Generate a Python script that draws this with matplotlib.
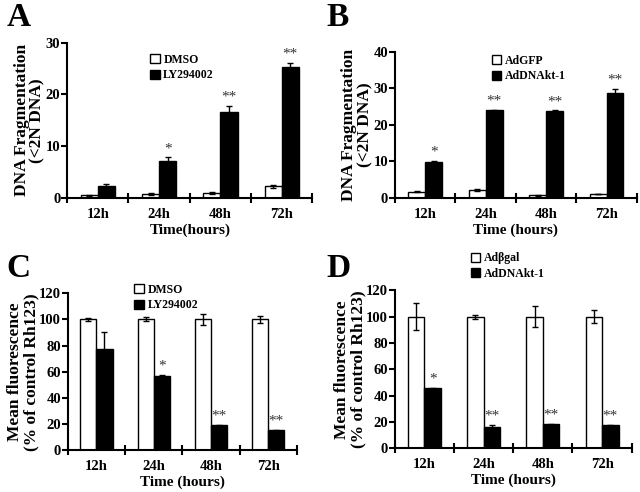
import numpy as np
import matplotlib
matplotlib.use('Agg')
import matplotlib.pyplot as plt

plt.rcParams['font.family'] = ['Liberation Serif', 'DejaVu Serif']
plt.rcParams['font.weight'] = 'bold'

times = ['12h', '24h', '48h', '72h']

# Panel A: DNA fragmentation, DMSO vs LY294002
a_ctrl = [0.5, 0.8, 1.0, 2.2]
a_ctrl_err = [0.1, 0.2, 0.2, 0.35]
a_trt = [2.3, 7.1, 16.6, 25.3]
a_trt_err = [0.3, 0.7, 1.1, 0.8]
a_stars = ['', '*', '**', '**']

# Panel B: DNA fragmentation, AdGFP vs AdDNAkt-1
b_ctrl = [1.7, 2.1, 0.7, 1.0]
b_ctrl_err = [0.1, 0.3, 0.1, 0.1]
b_trt = [9.8, 23.9, 23.7, 28.7]
b_trt_err = [0.3, 0.2, 0.2, 1.2]
b_stars = ['*', '**', '**', '**']

# Panel C: Rh123 fluorescence, DMSO vs LY294002
c_ctrl = [100, 100, 100, 100]
c_ctrl_err = [1.0, 1.5, 4.0, 2.5]
c_trt = [77, 56.5, 19, 15.3]
c_trt_err = [13, 0.7, 0.4, 0.3]
c_stars = ['', '*', '**', '**']

# Panel D: Rh123 fluorescence, Adbgal vs AdDNAkt-1
d_ctrl = [100, 100, 100, 100]
d_ctrl_err = [10.5, 1.5, 8.0, 5.0]
d_trt = [45.5, 15.8, 18.2, 17.4]
d_trt_err = [0.3, 1.6, 0.4, 0.3]
d_stars = ['*', '**', '**', '**']


def panel(ax, ctrl, ctrl_err, trt, trt_err, stars, labels, ylim, yticks,
          ylabel, xlabel, leg_loc):
    x = np.arange(len(times)) + 0.5
    w = 0.28
    ax.bar(x - w / 2, ctrl, w, yerr=ctrl_err, color='white', edgecolor='black',
           linewidth=1.0, label=labels[0],
           error_kw=dict(ecolor='black', elinewidth=1.0, capsize=2, capthick=1.0))
    ax.bar(x + w / 2, trt, w, yerr=trt_err, color='black', edgecolor='black',
           linewidth=1.0, label=labels[1],
           error_kw=dict(ecolor='black', elinewidth=1.0, capsize=2, capthick=1.0))
    span = ylim[1] - ylim[0]
    for xi, v, e, s in zip(x, trt, trt_err, stars):
        if s:
            ax.text(xi + w / 2, v + e + span * 0.015, s, ha='center', va='bottom',
                    fontsize=11, fontweight='normal', color='#333333')
    ax.set_xlim(0, 4)
    ax.set_ylim(*ylim)
    ax.set_yticks(yticks)
    ax.set_xticks(np.arange(5), minor=False)
    ax.set_xticklabels([])
    ax.set_xticks(x, minor=True)
    ax.set_xticklabels(times, minor=True, fontsize=10.5, fontweight='bold')
    ax.tick_params(axis='x', which='major', direction='inout', length=7, width=1.5)
    ax.tick_params(axis='x', which='minor', length=0, pad=7)
    ax.tick_params(axis='y', direction='out', length=4, width=1.5, labelsize=10.5, pad=1)
    for lab in ax.get_yticklabels():
        lab.set_fontweight('bold')
    for sp in ['top', 'right']:
        ax.spines[sp].set_visible(False)
    for sp in ['left', 'bottom']:
        ax.spines[sp].set_linewidth(1.5)
    ax.set_ylabel(ylabel, fontsize=12.5, fontweight='bold', labelpad=0,
                  linespacing=1.0)
    ax.set_xlabel(xlabel, fontsize=11, fontweight='bold', labelpad=2)
    ax.legend(loc='upper left', bbox_to_anchor=leg_loc, frameon=False,
              prop={'size': 8.5, 'weight': 'bold'}, handlelength=0.8,
              handleheight=0.8, handletextpad=0.3, labelspacing=0.3,
              borderaxespad=0)


fig = plt.figure(figsize=(6.4, 4.92), dpi=100)
axA = fig.add_axes([0.105, 0.598, 0.383, 0.315])
axB = fig.add_axes([0.617, 0.598, 0.378, 0.297])
axC = fig.add_axes([0.106, 0.085, 0.358, 0.319])
axD = fig.add_axes([0.617, 0.089, 0.370, 0.321])

panel(axA, a_ctrl, a_ctrl_err, a_trt, a_trt_err, a_stars, ['DMSO', 'LY294002'],
      (0, 30), [0, 10, 20, 30], 'DNA Fragmentation\n(<2N DNA)', 'Time(hours)',
      (0.32, 0.96))
panel(axB, b_ctrl, b_ctrl_err, b_trt, b_trt_err, b_stars, ['AdGFP', 'AdDNAkt-1'],
      (0, 40), [0, 10, 20, 30, 40], 'DNA Fragmentation\n(<2N DNA)', 'Time (hours)',
      (0.38, 1.01))
panel(axC, c_ctrl, c_ctrl_err, c_trt, c_trt_err, c_stars, ['DMSO', 'LY294002'],
      (0, 120), [0, 20, 40, 60, 80, 100, 120], 'Mean fluorescence\n(% of control Rh123)',
      'Time (hours)', (0.27, 1.09))
panel(axD, d_ctrl, d_ctrl_err, d_trt, d_trt_err, d_stars, ['Adβgal', 'AdDNAkt-1'],
      (0, 120), [0, 20, 40, 60, 80, 100, 120], 'Mean fluorescence\n(% of control Rh123)',
      'Time (hours)', (0.3, 1.27))

for lbl, (xx, yy) in zip('ABCD', [(0.01, 0.995), (0.51, 0.995), (0.01, 0.485), (0.51, 0.485)]):
    fig.text(xx, yy, lbl, fontsize=24, fontweight='bold', va='top', ha='left')

fig.savefig('out.png', dpi=100)
